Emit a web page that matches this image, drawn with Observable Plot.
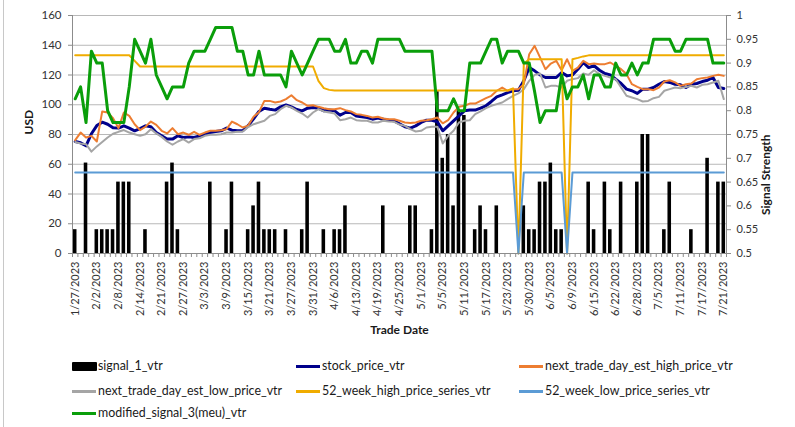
<!DOCTYPE html>
<html>
<head>
<meta charset="utf-8">
<script src="https://cdn.jsdelivr.net/npm/d3@7"></script>
<script src="https://cdn.jsdelivr.net/npm/@observablehq/plot@0.6"></script>
<style>
  html, body { margin: 0; padding: 0; background: #fff; }
  #wrap { position: relative; width: 795px; height: 427px; overflow: hidden; font-family: Lato, "Open Sans", sans-serif; }
  #border { position: absolute; left: 3px; top: 0; width: 1px; height: 427px; background: #c8c8c8; }
  .lg { position: absolute; font-size: 12.4px; color: #1a1a1a; line-height: 15px; white-space: nowrap; }
  .sw { position: absolute; }
</style>
</head>
<body>
<div id="wrap">
  <div id="chart"></div>
  <div id="border"></div>
  <div id="legend"></div>
</div>
<script>
const dates = ["1/27/2023","1/30/2023","1/31/2023","2/1/2023","2/2/2023","2/3/2023","2/6/2023","2/7/2023","2/8/2023","2/9/2023","2/10/2023","2/13/2023","2/14/2023","2/15/2023","2/16/2023","2/17/2023","2/21/2023","2/22/2023","2/23/2023","2/24/2023","2/27/2023","2/28/2023","3/1/2023","3/2/2023","3/3/2023","3/6/2023","3/7/2023","3/8/2023","3/9/2023","3/10/2023","3/13/2023","3/14/2023","3/15/2023","3/16/2023","3/17/2023","3/20/2023","3/21/2023","3/22/2023","3/23/2023","3/24/2023","3/27/2023","3/28/2023","3/29/2023","3/30/2023","3/31/2023","4/3/2023","4/4/2023","4/5/2023","4/6/2023","4/10/2023","4/11/2023","4/12/2023","4/13/2023","4/14/2023","4/17/2023","4/18/2023","4/19/2023","4/20/2023","4/21/2023","4/24/2023","4/25/2023","4/26/2023","4/27/2023","4/28/2023","5/1/2023","5/2/2023","5/3/2023","5/4/2023","5/5/2023","5/8/2023","5/9/2023","5/10/2023","5/11/2023","5/12/2023","5/15/2023","5/16/2023","5/17/2023","5/18/2023","5/19/2023","5/22/2023","5/23/2023","5/24/2023","5/25/2023","5/26/2023","5/30/2023","5/31/2023","6/1/2023","6/2/2023","6/5/2023","6/6/2023","6/7/2023","6/8/2023","6/9/2023","6/12/2023","6/13/2023","6/14/2023","6/15/2023","6/16/2023","6/20/2023","6/21/2023","6/22/2023","6/23/2023","6/26/2023","6/27/2023","6/28/2023","6/29/2023","6/30/2023","7/3/2023","7/5/2023","7/6/2023","7/7/2023","7/10/2023","7/11/2023","7/12/2023","7/13/2023","7/14/2023","7/17/2023","7/18/2023","7/19/2023","7/20/2023","7/21/2023"];

// signal_1_vtr (right axis, Signal Strength); 0 = no bar
const signal1 = [
  0.55,0,0.69,0,0.55,0.55,0.55,0.55,0.65,0.65,
  0.65,0,0,0.55,0,0,0,0.65,0.69,0.55,
  0,0,0,0,0,0.65,0,0,0.55,0.65,
  0,0,0.55,0.6,0.65,0.55,0.55,0.55,0,0.55,
  0,0,0.55,0.65,0,0,0.55,0,0.55,0.55,
  0.6,0,0,0,0,0,0,0.6,0,0,
  0,0,0.6,0.6,0,0,0.55,0.84,0.70,0.75,
  0.6,0.80,0.79,0,0.55,0.6,0.55,0,0.6,0,
  0,0,0,0.6,0.55,0.55,0.65,0.65,0.69,0.55,
  0.55,0,0,0,0,0.65,0.55,0,0.65,0.55,
  0,0.65,0,0,0.65,0.75,0.75,0,0,0.55,
  0.65,0,0,0,0.55,0,0,0.70,0,0.65,
  0.65
];

// stock_price_vtr (USD)
const stockPrice = [
  75.3,74.4,72.4,80.5,86,88.3,86.9,84.5,84.3,85.8,
  84.3,82.5,84,85.8,85.2,81.3,79.1,77,76.9,79.1,
  78,78.4,78,79.1,80.2,81.3,82,82.5,84.3,82.9,
  82.5,82.5,86,90.5,95.5,97.7,97,96.4,98.6,99.9,
  98.6,96.8,95.9,97.7,98.2,97.7,95.9,96.4,95.9,93,
  94.8,94.8,92.5,91.9,91.4,90.3,91,90.3,89.6,89.2,
  87.2,85.2,84.3,85.8,88.1,89.6,89.6,88.5,82.5,85.8,
  89.2,92.5,95.9,96.4,96.4,97.7,99.3,102.2,105.3,106.7,
  108.2,109.4,109.8,116.1,125,122.8,120.1,118.3,118.3,118.3,
  121.7,119.4,120.1,123.9,128.4,125,126.2,123.2,121,120.1,
  117.2,114.3,110.5,109.4,107.6,110.5,110.5,111.6,113.8,115.6,
  115,113.8,113.4,111.6,113.8,114.3,115.6,116.5,118.3,111.6,
  110.9
];

// next_trade_day_est_high_price_vtr (USD)
const estHigh = [
  76.2,81.3,78,79.1,75.3,95.5,94.8,91,84.3,94.8,
  92.5,86.9,82.9,85.2,88.7,86.5,82.5,80.7,84.3,80.2,
  81.3,79.8,81.8,79.8,81.3,82.5,82.5,82.9,83.6,88.7,
  86.9,84.7,86,92,95,102.6,102.6,101.5,102.2,103.8,
  106.4,103.1,101.5,99.3,99.7,98.6,97.7,97,97,97.7,
  96.4,95.5,93.7,93.2,92.5,91.4,91.9,90.8,90.3,90.3,
  89.2,88.1,87.8,88.1,89.2,89.6,90.3,91.4,87.5,89.6,
  94.8,98.6,99.3,100.8,100.8,102.6,104.4,106,109.4,111.6,
  109.4,110.5,110.5,113.8,134,139.6,131.8,123.9,127.7,129.5,
  123.2,130.6,122.8,125,129.5,127.3,127.7,127.3,127.3,128.4,
  126.2,123.9,120.6,113.8,112,110.5,110.5,109.8,111.6,115.6,
  116.5,115,112.7,113.8,114.3,117.2,117.9,118.3,119.4,120.1,
  119.4
];

// next_trade_day_est_low_price_vtr (USD)
const estLow = [
  75,74,73.5,68.5,72,75,78,80.5,81.8,83,
  81.3,80.2,79.1,80.2,83.6,80.7,78.4,75.3,73.1,75.3,
  76.9,74.6,76.9,77.5,79.1,79.8,79.8,80.2,81.3,81.3,
  81.8,82,85,86.9,88.1,89.2,92.5,93.7,97,99.3,
  98.2,95.9,94.1,91.4,94.8,97,95.5,94.8,94.1,89.6,
  90.3,91.4,89.6,89.2,89.2,88.1,88.1,89.2,88.7,88.5,
  86.7,85.8,83.6,82,82.5,84.7,85.2,85.2,74,79.1,
  82.5,88.1,89.2,89.6,93.7,95.5,97.7,99.3,100.4,101.5,
  103.8,106,107.6,110.5,116.1,120.1,121,111.6,112.7,112.7,
  111.6,116.1,117.2,117.9,121,120.1,123.2,120.6,119.4,118.3,
  117.2,111.6,106,104.9,103.8,102.2,102.6,104.4,105.3,109.4,
  110.5,111.6,111.1,112,112.7,111.6,113.4,113.8,115,116.1,
  103.8
];

// 52_week_high_price_series_vtr (USD)
const high52 = [
  133.3,133.3,133.3,133.3,133.3,133.3,133.3,133.3,133.3,133.3,
  133.3,129.5,125.7,125.7,125.7,125.7,125.7,125.7,125.7,125.7,
  125.7,125.7,125.7,125.7,125.7,125.7,125.7,125.7,125.7,125.7,
  125.7,125.7,125.7,125.7,125.7,125.7,125.7,125.7,125.7,125.7,
  125.7,125.7,125.7,125.7,125.7,116,111.2,110,109.6,109.6,
  109.6,109.6,109.6,109.6,109.6,109.6,109.6,109.6,109.6,109.6,
  109.6,109.6,109.6,109.6,109.6,109.6,109.6,109.6,109.6,109.6,
  109.6,109.6,109.6,109.6,109.6,109.6,109.6,109.6,109.6,109.6,
  109.6,111,0,127.5,130.6,130.6,130.6,130.6,130.6,130.6,
  130.6,0,130.6,131.5,132.5,133.2,133.2,133.2,133.2,133.2,
  133.2,133.2,133.2,133.2,133.2,133.2,133.2,133.2,133.2,133.2,
  133.2,133.2,133.2,133.2,133.2,133.2,133.2,133.2,133.2,133.2,
  133.2
];

// 52_week_low_price_series_vtr (USD)
const low52 = [
  54.4,54.4,54.4,54.4,54.4,54.4,54.4,54.4,54.4,54.4,
  54.4,54.4,54.4,54.4,54.4,54.4,54.4,54.4,54.4,54.4,
  54.4,54.4,54.4,54.4,54.4,54.4,54.4,54.4,54.4,54.4,
  54.4,54.4,54.4,54.4,54.4,54.4,54.4,54.4,54.4,54.4,
  54.4,54.4,54.4,54.4,54.4,54.4,54.4,54.4,54.4,54.4,
  54.4,54.4,54.4,54.4,54.4,54.4,54.4,54.4,54.4,54.4,
  54.4,54.4,54.4,54.4,54.4,54.4,54.4,54.4,54.4,54.4,
  54.4,54.4,54.4,54.4,54.4,54.4,54.4,54.4,54.4,54.4,
  54.4,54.4,0,54.4,54.4,54.4,54.4,54.4,54.4,54.4,
  54.4,0,54.4,54.4,54.4,54.4,54.4,54.4,54.4,54.4,
  54.4,54.4,54.4,54.4,54.4,54.4,54.4,54.4,54.4,54.4,
  54.4,54.4,54.4,54.4,54.4,54.4,54.4,54.4,54.4,54.4,
  54.4
];

// modified_signal_3(meu)_vtr (right axis, Signal Strength)
const signal3 = [
  0.825,0.85,0.775,0.925,0.9,0.9,0.8,0.775,0.775,0.775,
  0.85,0.95,0.925,0.9,0.95,0.875,0.85,0.825,0.85,0.85,
  0.85,0.9,0.925,0.925,0.925,0.95,0.975,0.975,0.975,0.975,
  0.925,0.925,0.875,0.875,0.925,0.875,0.875,0.875,0.875,0.85,
  0.925,0.9,0.875,0.9,0.925,0.95,0.95,0.95,0.925,0.925,
  0.95,0.9,0.9,0.925,0.925,0.9,0.95,0.95,0.95,0.95,
  0.95,0.925,0.925,0.925,0.925,0.925,0.925,0.8,0.8,0.8,
  0.825,0.8,0.8,0.9,0.9,0.9,0.925,0.95,0.95,0.9,
  0.925,0.925,0.925,0.9,0.9,0.84,0.775,0.8,0.8,0.8,
  0.875,0.825,0.85,0.85,0.875,0.825,0.875,0.875,0.85,0.85,
  0.9,0.875,0.875,0.9,0.875,0.9,0.9,0.95,0.95,0.95,
  0.95,0.925,0.925,0.95,0.95,0.95,0.95,0.95,0.9,0.9,
  0.9
];

const usdTicks = [0,20,40,60,80,100,120,140,160];
const strengthTicks = [0.5,0.55,0.6,0.65,0.7,0.75,0.8,0.85,0.9,0.95,1];
const dateTickIdx = d3.range(0, dates.length, 4);

const seriesNames = ["signal_1_vtr","stock_price_vtr","next_trade_day_est_high_price_vtr","next_trade_day_est_low_price_vtr","52_week_high_price_series_vtr","52_week_low_price_series_vtr","modified_signal_3(meu)_vtr"];
const seriesColors = ["#000000","#00008b","#ed7d31","#a5a5a5","#f0ac00","#5b9bd5","#0a9e0a"];

// right axis (0.5..1) shares the plot height with left axis (0..160)
const toLeft = r => (r - 0.5) * 320;
const fromLeft = v => +(0.5 + v / 320).toFixed(2);

const bars = signal1.map((v, i) => ({i, v})).filter(d => d.v > 0.5);
const boundaries = d3.range(-0.5, dates.length, 1);
const font = "Lato, 'Open Sans', sans-serif";

const lineOpts = (c, w) => ({x: (d, i) => i, y: d => d, stroke: c, strokeWidth: w, strokeLinejoin: "round", strokeLinecap: "round"});

const chart = Plot.plot({
  width: 795,
  height: 345,
  marginLeft: 72,
  marginRight: 69,
  marginTop: 15,
  marginBottom: 92,
  x: {type: "linear", domain: [-0.5, dates.length - 0.5]},
  y: {domain: [0, 160]},
  style: {fontFamily: font, fontSize: "11px", color: "#333", background: "transparent"},
  marks: [
    Plot.gridY(usdTicks, {stroke: "#b8b8b8", strokeOpacity: 1, strokeWidth: 1}),
    Plot.rectY(bars, {x1: d => d.i - 0.33, x2: d => d.i + 0.33, y1: 0, y2: d => toLeft(d.v), fill: seriesColors[0]}),
    Plot.lineY(stockPrice, lineOpts(seriesColors[1], 3)),
    Plot.lineY(estHigh, lineOpts(seriesColors[2], 2)),
    Plot.lineY(estLow, lineOpts(seriesColors[3], 2)),
    Plot.lineY(high52, lineOpts(seriesColors[4], 2)),
    Plot.lineY(low52, lineOpts(seriesColors[5], 2)),
    Plot.lineY(signal3.map(toLeft), lineOpts(seriesColors[6], 3)),
    Plot.ruleX([-0.5], {stroke: "#8c8c8c"}),
    Plot.ruleX([dates.length - 0.5], {stroke: "#8c8c8c"}),
    Plot.ruleY([0], {stroke: "#8c8c8c"}),
    Plot.axisY(usdTicks, {anchor: "left", tickSize: 4, tickPadding: 7, label: null, stroke: "#8c8c8c", fontSize: 11.5}),
    Plot.axisY(strengthTicks.map(toLeft), {anchor: "right", tickSize: 4, tickPadding: 6, label: null, tickFormat: fromLeft, stroke: "#8c8c8c", fontSize: 11}),
    Plot.axisX(dateTickIdx, {anchor: "bottom", tickRotate: -90, tickSize: 0, tickPadding: 8, tickFormat: i => dates[i], label: null, fontSize: 11}),
    Plot.axisX(boundaries, {anchor: "bottom", tickSize: 4, tickFormat: () => "", label: null, stroke: "#8c8c8c"}),
    Plot.text(["USD"], {frameAnchor: "left", dx: -43, rotate: -90, fontWeight: "bold", fontSize: 12, fill: "#1a1a1a"}),
    Plot.text(["Signal Strength"], {frameAnchor: "right", dx: 40, rotate: -90, fontWeight: "bold", fontSize: 12, fill: "#1a1a1a"}),
    Plot.text(["Trade Date"], {frameAnchor: "bottom", dy: 80, fontWeight: "bold", fontSize: 12, fill: "#1a1a1a"})
  ]
});
document.getElementById("chart").appendChild(chart);

// legend (HTML, below the SVG)
const legendPos = [
  {x: 72, y: 366}, {x: 296, y: 366}, {x: 519, y: 366},
  {x: 72, y: 391}, {x: 296, y: 391}, {x: 519, y: 391},
  {x: 72, y: 413}
];
const legend = document.getElementById("legend");
seriesNames.forEach((name, k) => {
  const p = legendPos[k];
  const sw = document.createElement("div");
  sw.className = "sw";
  if (k === 0) {
    sw.style.cssText = `left:${p.x}px;top:${p.y - 4}px;width:25px;height:9px;background:${seriesColors[k]};border-radius:1px;`;
  } else {
    sw.style.cssText = `left:${p.x}px;top:${p.y - 1.5}px;width:24px;height:3px;background:${seriesColors[k]};`;
  }
  legend.appendChild(sw);
  const t = document.createElement("div");
  t.className = "lg";
  t.textContent = name;
  t.style.left = (p.x + 26) + "px";
  t.style.top = (p.y - 8) + "px";
  legend.appendChild(t);
});
</script>
</body>
</html>
